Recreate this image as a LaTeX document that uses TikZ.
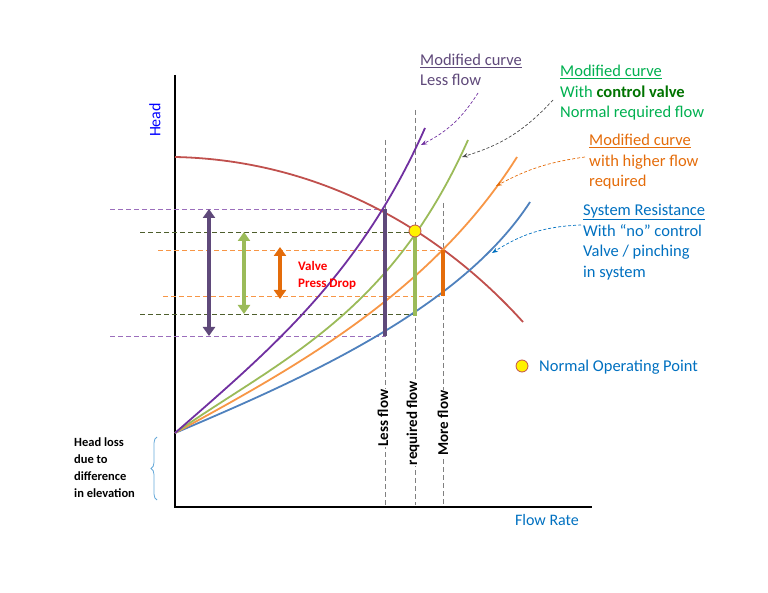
\documentclass[tikz,border=0pt]{standalone}
\usepackage{fontspec}
\setmainfont{Carlito}
\usetikzlibrary{arrows.meta,decorations.pathreplacing}
\definecolor{pumpred}{HTML}{C0504D}
\definecolor{sysblue}{HTML}{4F81BD}
\definecolor{txtblue}{HTML}{0070C0}
\definecolor{curvpurple}{HTML}{7030A0}
\definecolor{barpurple}{HTML}{5F497A}
\definecolor{curvgreen}{HTML}{9BBB59}
\definecolor{txtgreen}{HTML}{00B050}
\definecolor{curvorange}{HTML}{F79646}
\definecolor{barorange}{HTML}{E46C0A}
\tikzset{
  guide/.style={dashed,line width=0.8pt,dash pattern=on 5pt off 3pt},
  curve/.style={line width=1.8pt},
  bar/.style={line width=4pt},
  dbl/.style={line width=4pt,{Triangle[width=12pt,length=9pt]}-{Triangle[width=12pt,length=9pt]}},
  pointer/.style={densely dashed,line width=0.7pt,-{Stealth[length=6pt]}},
  lbl/.style={anchor=west,inner sep=0pt,font=\fontsize{16.5}{20.5}\selectfont,align=left},
  vlbl/.style={rotate=90,fill=white,inner sep=1pt,font=\bfseries\fontsize{15}{18}\selectfont}
}
\begin{document}
\begin{tikzpicture}[x=1pt,y=-1pt]
\useasboundingbox (0,0) rectangle (768,593);
% axes
\coordinate (top) at (175,75);
\coordinate (orig) at (175,507);
\coordinate (xend) at (592,507);
\draw [black,line width=1.2pt] (top) -- (orig) -- (xend);
\node [rotate=90,text=blue,font=\fontsize{16}{19}\selectfont] (head) at (155,120) {Head};
\node [text=txtblue,font=\fontsize{16}{19}\selectfont] (flow) at (547,520) {Flow Rate};
% vertical guides
\draw [gray,guide] (385,140) coordinate (gl) -- (385,505);
\draw [gray,guide] (415,110) coordinate (gr) -- (415,505);
\draw [gray,guide] (443,203) coordinate (gm) -- (443,505);
% horizontal guides
\draw [curvpurple!70,guide] (110,209) -- (385,209);
\draw [curvpurple!70,guide] (110,336) -- (385,336);
\draw [curvgreen!50!black,guide] (140,232) -- (415,232);
\draw [curvgreen!50!black,guide] (140,314) -- (415,314);
\draw [curvorange,guide] (158,250) -- (443,250);
\draw [curvorange,guide] (163,296) -- (443,296);
% curves
\draw [pumpred,curve] (175,157) .. controls (320,160) and (440,230) .. (523,322);
\draw [sysblue,curve] (175,433) .. controls (300,380) and (460,310) .. (530,202);
\draw [curvorange,curve] (175,433) .. controls (290,370) and (430,295) .. (517,157);
\draw [curvgreen,curve] (175,433) .. controls (280,360) and (390,315) .. (468,140);
\draw [curvpurple,curve] (175,433) .. controls (270,350) and (360,275) .. (425,128);
% bars
\draw [barpurple,bar] (385,209) -- (385,336);
\draw [curvgreen,bar] (415,231) -- (415,316);
\draw [barorange,bar] (443,250) -- (443,296);
% double arrows
\draw [barpurple,dbl] (209,209) -- (209,336);
\draw [curvgreen,dbl] (244,232) -- (244,314);
\draw [barorange,dbl] (280,247) -- (280,299);
\node [lbl,text=red,font=\bfseries\fontsize{13}{17}\selectfont] (drop) at (298,275) {Valve\\Press Drop};
% operating point
\node [circle,draw=pumpred,line width=0.8pt,fill=yellow,minimum size=12pt,inner sep=0pt] (op) at (415,231) {};
\node [circle,draw=pumpred,line width=0.8pt,fill=yellow,minimum size=12pt,inner sep=0pt] (opkey) at (522,366) {};
\node [lbl,text=txtblue] (opkeytxt) at (539,367) {Normal Operating Point};
% flow labels
\node [vlbl] (lessf) at (383,418) {Less flow};
\node [vlbl] (reqf) at (413,423) {required flow};
\node [vlbl] (moref) at (443,423) {More flow};
% curve labels
\node [lbl,text=barpurple] (lbpurple) at (420,70) {\underline{Modified curve}\\Less flow};
\node [lbl,text=txtgreen] (lbgreen) at (560,93) {\underline{Modified curve}\\With \textcolor{green!45!black}{\bfseries control valve}\\Normal required flow};
\node [lbl,text=barorange] (lborange) at (589,162) {\underline{Modified curve}\\with higher flow\\required};
\node [lbl,text=txtblue] (lbblue) at (583,242) {\underline{System Resistance}\\With “no” control\\Valve / pinching\\in system};
\draw [curvpurple,pointer] (478,93) to [bend left=15] (421,145);
\draw [black!70,pointer] (553,100) to [bend left=15] (462,157);
\draw [barorange,pointer] (585,157) to [bend right=10] (496,186);
\draw [txtblue,pointer] (581,225) to [bend right=15] (492,253);
% elevation
\draw [txtblue!60,line width=0.8pt,decorate,decoration={brace,amplitude=6pt}] (157,500) -- (157,437);
\node [lbl,font=\bfseries\fontsize{12.5}{17}\selectfont] (elev) at (74,468) {Head loss\\due to\\difference\\in elevation};
\end{tikzpicture}
\end{document}
